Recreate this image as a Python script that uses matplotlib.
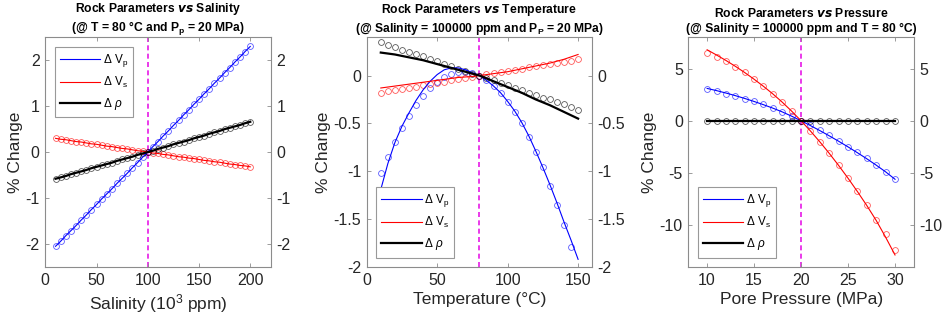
import numpy as np
import matplotlib
matplotlib.use('Agg')
import matplotlib.pyplot as plt

plt.rcParams['font.family'] = ['Liberation Sans', 'DejaVu Sans']
plt.rcParams['mathtext.fontset'] = 'custom'
plt.rcParams['mathtext.rm'] = 'Liberation Sans'
plt.rcParams['mathtext.it'] = 'Liberation Sans:italic'
plt.rcParams['mathtext.bf'] = 'Liberation Sans:bold'

# ---- panel 1: salinity (10^3 ppm) ----
sal = np.arange(10, 201, 5)
sal_vp = [-2.05, -1.94, -1.82, -1.71, -1.60, -1.48, -1.37, -1.25, -1.14, -1.02,
          -0.91, -0.80, -0.68, -0.57, -0.46, -0.34, -0.23, -0.11, 0.00, 0.12,
          0.23, 0.35, 0.46, 0.58, 0.69, 0.81, 0.92, 1.04, 1.15, 1.27,
          1.38, 1.50, 1.61, 1.73, 1.84, 1.96, 2.07, 2.19, 2.30]
sal_vs = [0.30, 0.28, 0.27, 0.25, 0.23, 0.22, 0.20, 0.18, 0.17, 0.15,
          0.13, 0.12, 0.10, 0.08, 0.07, 0.05, 0.03, 0.02, 0.00, -0.02,
          -0.03, -0.05, -0.06, -0.08, -0.10, -0.11, -0.13, -0.14, -0.16, -0.18,
          -0.19, -0.21, -0.22, -0.24, -0.26, -0.27, -0.29, -0.30, -0.32]
sal_rho = [-0.58, -0.55, -0.52, -0.48, -0.45, -0.42, -0.39, -0.35, -0.32, -0.29,
           -0.26, -0.23, -0.19, -0.16, -0.13, -0.10, -0.06, -0.03, 0.00, 0.03,
           0.07, 0.10, 0.13, 0.17, 0.20, 0.23, 0.26, 0.30, 0.33, 0.36,
           0.40, 0.43, 0.46, 0.50, 0.53, 0.56, 0.59, 0.63, 0.66]

# ---- panel 2: temperature (C) ----
temp = np.arange(10, 151, 5)
temp_mk = np.arange(10, 146, 5)
temp_vp = [-1.02, -0.85, -0.69, -0.55, -0.42, -0.31, -0.21, -0.135, -0.07, -0.02,
           0.02, 0.035, 0.04, 0.025, 0.00, -0.05, -0.11, -0.18, -0.28, -0.38,
           -0.50, -0.64, -0.80, -0.96, -1.15, -1.35, -1.56, -1.79]
temp_vs = [-0.18, -0.165, -0.155, -0.14, -0.13, -0.115, -0.10, -0.09, -0.075, -0.065,
           -0.05, -0.04, -0.025, -0.013, 0.00, 0.012, 0.025, 0.037, 0.05, 0.06,
           0.072, 0.085, 0.097, 0.11, 0.12, 0.132, 0.145, 0.157, 0.17]
temp_rho = [0.35, 0.32, 0.30, 0.27, 0.25, 0.22, 0.20, 0.17, 0.15, 0.12,
            0.10, 0.07, 0.05, 0.02, 0.00, -0.03, -0.05, -0.08, -0.10, -0.13,
            -0.15, -0.18, -0.20, -0.23, -0.25, -0.28, -0.30, -0.33, -0.36]
# fitted curves
temp_vp_fit = [-1.19, -0.92, -0.70, -0.53, -0.39, -0.26, -0.15, -0.06, 0.01, 0.06,
               0.08, 0.08, 0.06, 0.03, 0.00, -0.05, -0.11, -0.18, -0.27, -0.37,
               -0.49, -0.63, -0.79, -0.96, -1.14, -1.33, -1.53, -1.72, -1.92]
temp_vs_fit = [-0.13, -0.12, -0.11, -0.10, -0.09, -0.08, -0.07, -0.06, -0.05, -0.04,
               -0.03, -0.02, -0.015, -0.01, 0.00, 0.01, 0.02, 0.03, 0.04, 0.055,
               0.07, 0.085, 0.10, 0.115, 0.13, 0.15, 0.17, 0.195, 0.22]
temp_rho_fit = [0.24, 0.23, 0.22, 0.205, 0.19, 0.175, 0.16, 0.14, 0.12, 0.10,
                0.08, 0.06, 0.04, 0.02, 0.00, -0.03, -0.06, -0.09, -0.12, -0.15,
                -0.18, -0.215, -0.25, -0.28, -0.31, -0.345, -0.38, -0.415, -0.45]

# ---- panel 3: pore pressure (MPa) ----
pres = np.arange(10, 31, 1)
pres_vp = [3.02, 2.83, 2.60, 2.38, 2.13, 1.90, 1.59, 1.27, 0.86, 0.44, 0.00,
           -0.44, -0.89, -1.40, -1.94, -2.48, -3.00, -3.60, -4.20, -4.86, -5.56]
pres_vs = [6.54, 6.13, 5.68, 5.17, 4.63, 4.00, 3.33, 2.57, 1.78, 0.92, 0.00,
           -0.98, -2.00, -3.11, -4.25, -5.46, -6.73, -8.10, -9.49, -10.86, -12.35]
pres_rho = [0.0] * 21
pres_vp_fit = [3.10, 2.89, 2.66, 2.41, 2.14, 1.85, 1.54, 1.21, 0.85, 0.44, 0.00,
               -0.46, -0.94, -1.44, -1.96, -2.50, -3.06, -3.64, -4.25, -4.89, -5.60]
pres_vs_fit = [6.80, 6.30, 5.78, 5.22, 4.62, 3.98, 3.30, 2.57, 1.78, 0.92, 0.00,
               -0.98, -2.02, -3.12, -4.28, -5.50, -6.78, -8.12, -9.55, -11.15, -12.85]
pres_rho_fit = [0.0] * 21

panels = [
    dict(x=sal, mkx=(sal, sal, sal), mk=(sal_vp, sal_vs, sal_rho), fit=(sal_vp, sal_vs, sal_rho),
         ref=100, xlim=(0, 220), xticks=[0, 50, 100, 150, 200],
         ylim=(-2.5, 2.5), yticks=[-2, -1, 0, 1, 2],
         title='Rock Parameters $\\mathbfit{vs}$ Salinity\n(@ T = 80 \u00b0C and P$_\\mathbf{p}$ = 20 MPa)',
         xlabel='Salinity (10$^3$ ppm)', leg='upper left'),
    dict(x=temp, mkx=(temp_mk, temp, temp), mk=(temp_vp, temp_vs, temp_rho),
         fit=(temp_vp_fit, temp_vs_fit, temp_rho_fit),
         ref=80, xlim=(0, 160), xticks=[0, 50, 100, 150],
         ylim=(-2, 0.4), yticks=[-2, -1.5, -1, -0.5, 0],
         title='Rock Parameters $\\mathbfit{vs}$ Temperature\n(@ Salinity = 100000 ppm and P$_\\mathbf{P}$ = 20 MPa)',
         xlabel='Temperature (\u00b0C)', leg='lower left'),
    dict(x=pres, mkx=(pres, pres, pres), mk=(pres_vp, pres_vs, pres_rho),
         fit=(pres_vp_fit, pres_vs_fit, pres_rho_fit),
         ref=20, xlim=(8, 32), xticks=[10, 15, 20, 25, 30],
         ylim=(-14, 8), yticks=[-10, -5, 0, 5],
         title='Rock Parameters $\\mathbfit{vs}$ Pressure\n(@ Salinity = 100000 ppm and T = 80 \u00b0C)',
         xlabel='Pore Pressure (MPa)', leg='lower left'),
]

colors = ['#0000ff', '#ff0000', '#000000']
lws = [0.8, 0.8, 1.6]
labels = ['$\\Delta$ V$_\\mathrm{p}$', '$\\Delta$ V$_\\mathrm{s}$', '$\\Delta$ $\\it{\\rho}$']
frame = '#8c8c8c'

fig = plt.figure(figsize=(9.51, 3.24), dpi=100)
lefts = [0.0476, 0.3856, 0.7238]

for left, p in zip(lefts, panels):
    ax = fig.add_axes([left, 0.176, 0.2371, 0.709])
    ax.axvline(p['ref'], color='#e619e6', lw=1.2, ls=(0, (3, 2)), zorder=1)
    handles = []
    for xm, y, c in zip(p['mkx'], p['mk'], colors):
        ax.plot(xm, y, 'o', mfc='none', mec=c, mew=0.6, ms=4.2, alpha=0.65, zorder=2)
    for y, c, lw, lab in zip(p['fit'], colors, lws, labels):
        h, = ax.plot(p['x'], y, '-', color=c, lw=lw, label=lab, zorder=3)
        handles.append(h)
    ax.set_xlim(*p['xlim'])
    ax.set_ylim(*p['ylim'])
    ax.set_xticks(p['xticks'])
    ax.set_yticks(p['yticks'])
    ax.set_yticklabels([('%g' % t) for t in p['yticks']])
    ax.tick_params(direction='in', length=3, width=0.6, color=frame,
                   labelsize=11.5, labelcolor='#262626',
                   top=True, right=True, labelright=True, pad=4)
    for s in ax.spines.values():
        s.set_color(frame)
        s.set_linewidth(0.8)
    ax.set_xlabel(p['xlabel'], fontsize=12.5, color='#262626', labelpad=3)
    ax.set_ylabel('% Change', fontsize=12.5, color='#262626', labelpad=2)
    ax.set_title(p['title'], fontsize=8.7, fontweight='bold', linespacing=1.25, pad=4)
    leg = ax.legend(handles=handles, loc=p['leg'], fontsize=8.5, handlelength=3.4,
                    handletextpad=0.2, labelspacing=0.5, borderpad=0.45,
                    fancybox=False, framealpha=1, edgecolor='#999999',
                    borderaxespad=0.8)
    leg.get_frame().set_linewidth(0.8)

fig.savefig('out.png', dpi=100)
